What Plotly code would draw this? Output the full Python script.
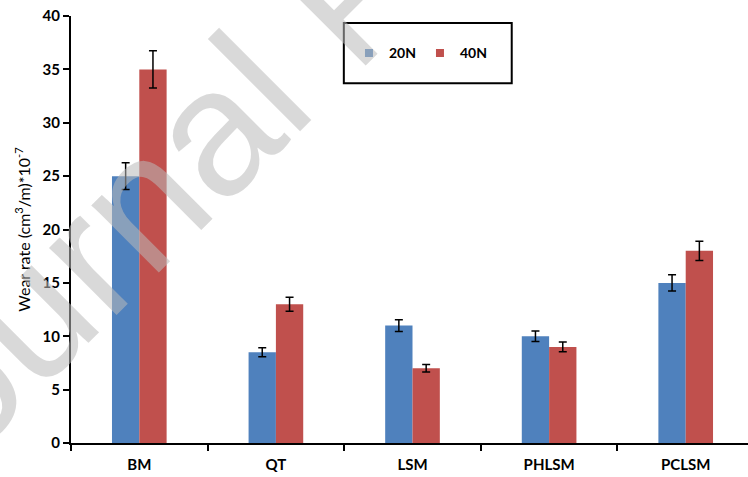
import plotly.graph_objects as go

# Wear rate of the steel conditions under two normal loads
categories = ["BM", "QT", "LSM", "PHLSM", "PCLSM"]
wear_20n = [25.0, 8.5, 11.0, 10.0, 15.0]
wear_40n = [35.0, 13.0, 7.0, 9.0, 18.0]
err_20n = [1.25, 0.43, 0.55, 0.5, 0.75]
err_40n = [1.75, 0.65, 0.35, 0.45, 0.9]
series_names = ["20N", "40N"]
y_ticks = [0, 5, 10, 15, 20, 25, 30, 35, 40]

BLUE = "#4F81BD"
RED = "#C0504D"
FONT = "Lato, 'Liberation Sans', Arial, sans-serif"

fig = go.Figure()

for name, vals, errs, color in [
    (series_names[0], wear_20n, err_20n, BLUE),
    (series_names[1], wear_40n, err_40n, RED),
]:
    fig.add_trace(go.Bar(
        x=categories, y=vals, name=name, showlegend=False,
        marker=dict(color=color, line=dict(width=0)),
        error_y=dict(type="data", array=errs, visible=True,
                     color="#000000", thickness=1.5, width=4),
    ))
    # small square legend key
    fig.add_trace(go.Scatter(
        x=[None], y=[None], mode="markers", name=name,
        marker=dict(symbol="square", size=8, color=color),
    ))

fig.update_layout(
    width=748, height=477,
    margin=dict(l=71, r=0, t=16, b=34, pad=0),
    paper_bgcolor="white", plot_bgcolor="white",
    barmode="group", bargap=0.6, bargroupgap=0,
    font=dict(family=FONT, size=15, color="#000000"),
    showlegend=True,
    legend=dict(
        orientation="h", x=0.4106, xanchor="left", y=0.9127, yanchor="middle",
        bgcolor="rgba(0,0,0,0)", borderwidth=0,
        font=dict(family=FONT, size=14, color="#000000", weight="bold"),
        entrywidth=26, itemwidth=30,
    ),
    shapes=[dict(
        type="rect", xref="paper", yref="paper",
        x0=0.403, x1=0.651, y0=0.8425, y1=0.9836,
        line=dict(color="#000000", width=2), fillcolor="rgba(0,0,0,0)",
    )],
    annotations=[dict(
        text="Journal Pre-proof", xref="paper", yref="paper",
        x=0.4125, y=1.056, xanchor="center", yanchor="middle",
        textangle=-45, showarrow=False,
        font=dict(family="'Liberation Sans', Arial, sans-serif", size=180,
                  color="rgba(185,185,185,0.55)"),
    )],
)

fig.update_xaxes(
    range=[-0.5, 4.456], showline=True, linecolor="#000000", linewidth=2,
    ticks="outside", tickson="boundaries", ticklen=6, tickwidth=2,
    tickcolor="#000000", showgrid=False, zeroline=False,
    tickfont=dict(family=FONT, size=15, weight="bold"),
    ticklabelstandoff=7,
)
fig.update_yaxes(
    range=[0, 40], tickvals=y_ticks, showline=True, linecolor="#000000",
    linewidth=2, ticks="outside", ticklen=6, tickwidth=2, tickcolor="#000000",
    showgrid=False, zeroline=False,
    tickfont=dict(family=FONT, size=15, weight="bold"),
    title=dict(text="Wear rate (cm<sup>3</sup>/m)*10<sup>-7</sup>",
               font=dict(family=FONT, size=16), standoff=8),
    automargin=False,
)

fig.write_html("out.html")
